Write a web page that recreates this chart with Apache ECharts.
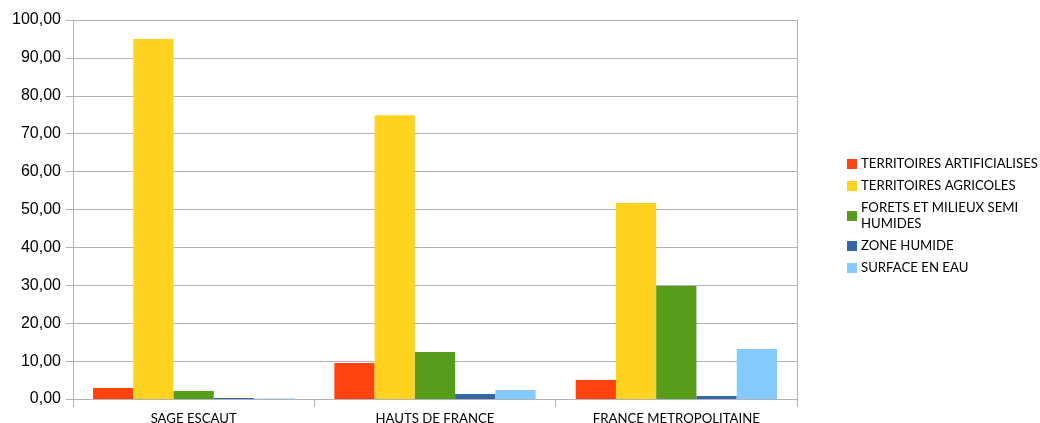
<!DOCTYPE html>
<html><head><meta charset="utf-8">
<script src="https://cdn.jsdelivr.net/npm/echarts@6/dist/echarts.min.js"></script>
<style>html,body{margin:0;padding:0;background:#fff}#c{width:1040px;height:423px}</style>
</head><body><div id="c"></div>
<script>
const categories = ['SAGE ESCAUT', 'HAUTS DE FRANCE', 'FRANCE METROPOLITAINE'];
const seriesNames = ['TERRITOIRES ARTIFICIALISES', 'TERRITOIRES AGRICOLES', 'FORETS ET MILIEUX SEMI\nHUMIDES', 'ZONE HUMIDE', 'SURFACE EN EAU'];
const artificialises = [2.9, 9.5, 5.0];
const agricoles = [95.0, 74.9, 51.7];
const forets = [2.1, 12.4, 29.8];
const zoneHumide = [0.25, 1.3, 0.8];
const surfaceEau = [0.1, 2.4, 13.2];
const colors = ['#ff420e', '#ffd320', '#579d1c', '#3465a4', '#83caff'];
const allData = [artificialises, agricoles, forets, zoneHumide, surfaceEau];

const axisGrey = '#b3b3b3';
const chart = echarts.init(document.getElementById('c'));
chart.setOption({
  animation: false,
  color: colors,
  grid: { left: 73, right: 243, top: 20, bottom: 24, containLabel: false, outerBoundsMode: 'none' },
  legend: {
    orient: 'vertical', left: 842, top: 151,
    itemWidth: 10, itemHeight: 10, itemGap: 6, icon: 'rect',
    textStyle: { fontFamily: 'Lato', fontSize: 13.2, color: '#000', lineHeight: 16, padding: [0, 0, 0, -1] },
    data: seriesNames
  },
  xAxis: {
    type: 'category', data: categories,
    axisLine: { lineStyle: { color: axisGrey, width: 1 } },
    axisTick: { show: true, length: 8, lineStyle: { color: axisGrey } },
    axisLabel: { fontFamily: 'Lato', fontSize: 13.2, color: '#000', margin: 13 }
  },
  yAxis: [{
    type: 'value', min: 0, max: 100, interval: 10,
    axisLine: { show: true, lineStyle: { color: axisGrey } },
    axisTick: { show: true, length: 7, lineStyle: { color: axisGrey } },
    splitLine: { lineStyle: { color: axisGrey, width: 1 } },
    axisLabel: { fontFamily: 'Liberation Sans', fontSize: 16, color: '#000', margin: 12,
      formatter: v => v.toFixed(2).replace('.', ',') }
  }, {
    type: 'value', min: 0, max: 100, interval: 10, position: 'right',
    axisLine: { show: true, lineStyle: { color: axisGrey } },
    axisTick: { show: false }, axisLabel: { show: false }, splitLine: { show: false }
  }],
  series: seriesNames.map((n, i) => ({
    name: n, type: 'bar', data: allData[i], yAxisIndex: 0,
    barGap: '0%', barCategoryGap: '16.6%'
  }))
});
</script>
</body></html>
